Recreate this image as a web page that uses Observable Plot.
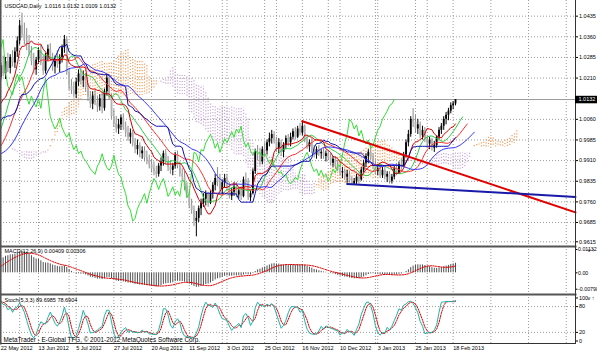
<!DOCTYPE html>
<html><head><meta charset="utf-8">
<script src="https://cdn.jsdelivr.net/npm/d3@7"></script>
<script src="https://cdn.jsdelivr.net/npm/@observablehq/plot@0.6"></script>
<style>
body{margin:0;background:#fff;}
#chart{position:relative;width:597px;height:354px;overflow:hidden;background:#fff;}
</style></head><body><div id="chart"></div>
<script>
// ---------- DATA (USDCAD daily, 22 May 2012 .. 19 Feb 2013) ----------
const dateTickBars = [0,16,32,48,64,80,96,112,128,144,160,176,192];
const dateLabels = ["22 May 2012","13 Jun 2012","5 Jul 2012","27 Jul 2012","20 Aug 2012","11 Sep 2012","3 Oct 2012","25 Oct 2012","16 Nov 2012","10 Dec 2012","3 Jan 2013","25 Jan 2013","18 Feb 2013"];
const futureGridBars = [208,224,240];
const monthStartBars = [8,29,51,74,94,117,139,159,181];
const priceTicks = [1.0435,1.0360,1.0285,1.0210,1.0060,0.9985,0.9910,0.9835,0.9760,0.9685,0.9615];
const macdTicks = [0.01132,0,-0.00798];
const macdTickLabels = ["0.01132","0.00","-0.00798"];
const stochTicks = [100,80,20,0];
const stochLevels = [20,80];

// history before the first visible bar (implied by the indicator levels at the left edge)
const preHigh = [0.9995,0.9985,1.0000,1.0020,1.0005,0.9985,0.9965,0.9980,1.0010,1.0010,1.0030,1.0040,1.0015,0.9975,1.0000,0.9995,0.9975,0.9945,0.9935,0.9920,0.9930,0.9930,0.9905,0.9885,0.9895,0.9905,0.9895,0.9900,0.9915,0.9945,0.9975,0.9985,1.0000,1.0010,1.0010,1.0045,1.0070,1.0105,1.0145,1.0180,1.0215];
const preLow = [0.9940,0.9930,0.9945,0.9975,0.9965,0.9945,0.9920,0.9930,0.9960,0.9965,0.9975,0.9995,0.9955,0.9930,0.9940,0.9955,0.9905,0.9900,0.9890,0.9870,0.9880,0.9885,0.9860,0.9845,0.9850,0.9860,0.9855,0.9860,0.9875,0.9895,0.9925,0.9945,0.9960,0.9970,0.9975,0.9990,1.0025,1.0055,1.0085,1.0125,1.0160];
const preClose = [0.9965,0.9950,0.9985,0.9995,0.9975,0.9955,0.9935,0.9965,0.9990,0.9985,1.0005,1.0010,0.9965,0.9945,0.9985,0.9970,0.9915,0.9925,0.9905,0.9890,0.9920,0.9895,0.9870,0.9860,0.9875,0.9880,0.9870,0.9885,0.9900,0.9935,0.9955,0.9965,0.9990,0.9985,0.9995,1.0030,1.0060,1.0090,1.0130,1.0165,1.0200];

const open = [1.0210,1.0255,1.0225,1.0270,1.0245,1.0285,1.0265,1.0305,1.0345,1.0400,
1.0370,1.0345,1.0330,1.0300,1.0270,1.0240,1.0275,1.0310,1.0265,1.0235,
1.0290,1.0315,1.0280,1.0250,1.0275,1.0260,1.0285,1.0320,1.0350,1.0230,
1.0180,1.0165,1.0150,1.0195,1.0225,1.0200,1.0215,1.0175,1.0140,1.0115,
1.0145,1.0120,1.0105,1.0135,1.0100,1.0160,1.0210,1.0140,1.0070,1.0045,
1.0025,1.0040,1.0065,1.0030,1.0010,0.9995,1.0010,0.9975,0.9950,0.9965,
0.9935,0.9945,0.9920,0.9910,0.9895,0.9880,0.9870,0.9860,0.9890,0.9905,
0.9935,0.9905,0.9885,0.9875,0.9890,0.9930,0.9890,0.9860,0.9850,0.9815,
0.9790,0.9745,0.9730,0.9690,0.9700,0.9735,0.9755,0.9770,0.9790,0.9755,
0.9790,0.9820,0.9845,0.9830,0.9805,0.9830,0.9845,0.9815,0.9780,0.9795,
0.9815,0.9785,0.9800,0.9780,0.9840,0.9835,0.9775,0.9790,0.9870,0.9940,
0.9935,0.9905,0.9950,0.9945,0.9975,0.9990,1.0005,0.9985,0.9955,0.9975,
0.9940,0.9965,0.9990,0.9975,0.9995,1.0015,0.9995,1.0025,1.0010,1.0035,
0.9985,0.9960,0.9975,0.9945,0.9930,0.9950,0.9935,0.9940,0.9925,0.9935,
0.9920,0.9900,0.9915,0.9890,0.9880,0.9865,0.9870,0.9850,0.9860,0.9835,
0.9825,0.9835,0.9850,0.9840,0.9875,0.9900,0.9925,0.9940,0.9920,0.9890,
0.9870,0.9880,0.9855,0.9875,0.9850,0.9860,0.9835,0.9850,0.9880,0.9865,
0.9895,0.9890,0.9930,0.9975,1.0005,1.0060,1.0050,1.0025,1.0040,1.0000,
1.0020,0.9985,0.9970,0.9985,0.9955,0.9965,0.9995,1.0020,1.0035,1.0060,
1.0075,1.0090,1.0110,1.0116];
const high = [1.0265,1.0290,1.0285,1.0300,1.0295,1.0310,1.0320,1.0360,1.0420,1.0446,
1.0410,1.0390,1.0365,1.0325,1.0300,1.0285,1.0320,1.0330,1.0290,1.0300,
1.0330,1.0335,1.0300,1.0290,1.0310,1.0295,1.0330,1.0365,1.0360,1.0245,
1.0205,1.0195,1.0210,1.0240,1.0245,1.0235,1.0225,1.0190,1.0160,1.0160,
1.0165,1.0145,1.0150,1.0155,1.0170,1.0225,1.0215,1.0150,1.0095,1.0070,
1.0060,1.0075,1.0080,1.0050,1.0035,1.0025,1.0020,0.9990,0.9985,0.9975,
0.9960,0.9960,0.9945,0.9930,0.9915,0.9905,0.9890,0.9900,0.9920,0.9945,
0.9950,0.9925,0.9910,0.9900,0.9940,0.9945,0.9905,0.9880,0.9870,0.9830,
0.9800,0.9770,0.9745,0.9725,0.9745,0.9770,0.9790,0.9800,0.9795,0.9800,
0.9830,0.9860,0.9885,0.9860,0.9840,0.9860,0.9860,0.9830,0.9810,0.9830,
0.9830,0.9810,0.9815,0.9850,0.9865,0.9845,0.9800,0.9880,0.9950,0.9965,
0.9955,0.9960,0.9975,0.9985,1.0010,1.0020,1.0015,0.9995,0.9990,0.9985,
0.9975,1.0000,1.0005,1.0010,1.0025,1.0030,1.0035,1.0045,1.0055,1.0040,
1.0000,0.9985,0.9990,0.9965,0.9960,0.9965,0.9950,0.9955,0.9945,0.9945,
0.9935,0.9925,0.9925,0.9910,0.9895,0.9885,0.9880,0.9875,0.9870,0.9850,
0.9845,0.9860,0.9865,0.9885,0.9910,0.9935,0.9950,0.9965,0.9935,0.9905,
0.9895,0.9890,0.9885,0.9885,0.9870,0.9870,0.9860,0.9890,0.9900,0.9905,
0.9915,0.9940,0.9985,1.0020,1.0070,1.0099,1.0075,1.0060,1.0050,1.0035,
1.0030,1.0000,0.9995,0.9990,0.9980,1.0000,1.0030,1.0045,1.0070,1.0085,
1.0100,1.0120,1.0125,1.0132];
const low = [1.0200,1.0215,1.0205,1.0230,1.0225,1.0250,1.0245,1.0285,1.0330,1.0355,
1.0330,1.0310,1.0290,1.0255,1.0225,1.0220,1.0260,1.0255,1.0220,1.0225,
1.0270,1.0270,1.0235,1.0225,1.0245,1.0230,1.0265,1.0300,1.0220,1.0165,
1.0150,1.0140,1.0135,1.0180,1.0185,1.0175,1.0160,1.0125,1.0100,1.0095,
1.0110,1.0085,1.0090,1.0080,1.0090,1.0145,1.0130,1.0060,1.0030,1.0010,
1.0005,1.0020,1.0020,0.9995,0.9980,0.9970,0.9960,0.9935,0.9930,0.9920,
0.9915,0.9905,0.9895,0.9880,0.9865,0.9855,0.9845,0.9850,0.9870,0.9890,
0.9895,0.9870,0.9860,0.9855,0.9880,0.9880,0.9850,0.9835,0.9800,0.9775,
0.9735,0.9715,0.9670,0.9633,0.9685,0.9710,0.9740,0.9745,0.9740,0.9750,
0.9770,0.9800,0.9815,0.9795,0.9785,0.9810,0.9800,0.9770,0.9765,0.9780,
0.9775,0.9770,0.9765,0.9775,0.9815,0.9765,0.9760,0.9785,0.9860,0.9910,
0.9890,0.9895,0.9925,0.9930,0.9960,0.9970,0.9970,0.9940,0.9935,0.9925,
0.9920,0.9950,0.9960,0.9960,0.9985,0.9985,0.9990,1.0000,1.0000,0.9975,
0.9950,0.9940,0.9935,0.9920,0.9915,0.9925,0.9915,0.9915,0.9905,0.9910,
0.9890,0.9885,0.9880,0.9870,0.9855,0.9845,0.9840,0.9828,0.9830,0.9822,
0.9820,0.9822,0.9825,0.9835,0.9865,0.9885,0.9900,0.9910,0.9880,0.9860,
0.9855,0.9845,0.9845,0.9840,0.9830,0.9825,0.9825,0.9840,0.9855,0.9860,
0.9875,0.9885,0.9920,0.9960,0.9995,1.0030,1.0010,1.0005,0.9990,0.9985,
0.9975,0.9955,0.9950,0.9945,0.9940,0.9955,0.9985,1.0005,1.0020,1.0040,
1.0055,1.0080,1.0095,1.0109];
const close = [1.0255,1.0225,1.0270,1.0245,1.0285,1.0265,1.0305,1.0345,1.0400,1.0370,
1.0345,1.0330,1.0300,1.0270,1.0240,1.0275,1.0310,1.0265,1.0235,1.0290,
1.0315,1.0280,1.0250,1.0275,1.0260,1.0285,1.0320,1.0350,1.0230,1.0180,
1.0165,1.0150,1.0195,1.0225,1.0200,1.0215,1.0175,1.0140,1.0115,1.0145,
1.0120,1.0105,1.0135,1.0100,1.0160,1.0210,1.0140,1.0070,1.0045,1.0025,
1.0040,1.0065,1.0030,1.0010,0.9995,1.0010,0.9975,0.9950,0.9965,0.9935,
0.9945,0.9920,0.9910,0.9895,0.9880,0.9870,0.9860,0.9890,0.9905,0.9935,
0.9905,0.9885,0.9875,0.9890,0.9930,0.9890,0.9860,0.9850,0.9815,0.9790,
0.9745,0.9730,0.9690,0.9700,0.9735,0.9755,0.9770,0.9790,0.9755,0.9790,
0.9820,0.9845,0.9830,0.9805,0.9830,0.9845,0.9815,0.9780,0.9795,0.9815,
0.9785,0.9800,0.9780,0.9840,0.9835,0.9775,0.9790,0.9870,0.9940,0.9935,
0.9905,0.9950,0.9945,0.9975,0.9990,1.0005,0.9985,0.9955,0.9975,0.9940,
0.9965,0.9990,0.9975,0.9995,1.0015,0.9995,1.0025,1.0010,1.0035,0.9985,
0.9960,0.9975,0.9945,0.9930,0.9950,0.9935,0.9940,0.9925,0.9935,0.9920,
0.9900,0.9915,0.9890,0.9880,0.9865,0.9870,0.9850,0.9860,0.9835,0.9825,
0.9835,0.9850,0.9840,0.9875,0.9900,0.9925,0.9940,0.9920,0.9890,0.9870,
0.9880,0.9855,0.9875,0.9850,0.9860,0.9835,0.9850,0.9880,0.9865,0.9895,
0.9890,0.9930,0.9975,1.0005,1.0060,1.0050,1.0025,1.0040,1.0000,1.0020,
0.9985,0.9970,0.9985,0.9955,0.9965,0.9995,1.0020,1.0035,1.0060,1.0075,
1.0090,1.0110,1.0116,1.0132];

// hand-drawn trend lines (bar index, price)
const redTrendBars = [128, 243.93];
const redTrendPrices = [1.0053, 0.9722];
const blueTrendBars = [147, 243.93];
const blueTrendPrices = [0.9825, 0.9778];

const titleText = "USDCAD,Daily  1.0116 1.0132 1.0109 1.0132";
const macdTitle = "MACD(12,26,9) 0.00409 0.00306";
const stochTitle = "Stoch(5,3,3) 89.6985 78.6904";
const copyright = "MetaTrader - E-Global TFG, \u00A9 2001-2012 MetaQuotes Software Corp.";

// ---------- derived indicator series ----------
const allH = preHigh.concat(high), allL = preLow.concat(low), allC = preClose.concat(close);
const off = preClose.length, N = allC.length;
const barOf = i => i - off;
function hiOf(i,n){let m=-Infinity;for(let k=Math.max(0,i-n+1);k<=i;k++) if(allH[k]>m) m=allH[k];return m;}
function loOf(i,n){let m=Infinity;for(let k=Math.max(0,i-n+1);k<=i;k++) if(allL[k]<m) m=allL[k];return m;}
const tenkan=[], kijun=[], cloud=[], chikou=[];
for(let i=0;i<N;i++){
  const t=(hiOf(i,9)+loOf(i,9))/2, k=(hiOf(i,26)+loOf(i,26))/2;
  tenkan.push({bar:barOf(i),v:t}); kijun.push({bar:barOf(i),v:k});
  cloud.push({bar:barOf(i)+26,a:(t+k)/2,b:(hiOf(i,52)+loOf(i,52))/2});
  chikou.push({bar:barOf(i)-26,v:allC[i]});
}
function smma(src,n){let s=0;return src.map((v,i)=> s = i<n ? (s*i+v)/(i+1) : (s*(n-1)+v)/n);}
const med = allH.map((h,i)=>(h+allL[i])/2);
const jaw = smma(med,13).map((v,i)=>({bar:barOf(i)+8,v}));
const teeth = smma(med,8).map((v,i)=>({bar:barOf(i)+5,v}));
const lips = smma(med,5).map((v,i)=>({bar:barOf(i)+3,v}));
function ema(src,n){const a=2/(n+1);let e=src[0];return src.map(v=> e=e+a*(v-e));}
function sma(src,n){return src.map((v,i)=>{let s=0,c=0;for(let k=Math.max(0,i-n+1);k<=i;k++){s+=src[k];c++;}return s/c;});}
const e12=ema(allC,12), e26=ema(allC,26);
const macdV = e12.map((v,i)=>v-e26[i]);
const sigV = sma(macdV,9);
const macdBars = macdV.map((v,i)=>({bar:barOf(i),v})).filter(d=>d.bar>=0);
const sigLine = sigV.map((v,i)=>({bar:barOf(i),v})).filter(d=>d.bar>=0);
const rawNum = allC.map((c,i)=>c-loOf(i,5)), rawDen = allC.map((c,i)=>hiOf(i,5)-loOf(i,5));
const kV = allC.map((c,i)=>{let n=0,d=0;for(let k=Math.max(0,i-2);k<=i;k++){n+=rawNum[k];d+=rawDen[k];}return d?100*n/d:50;});
const dV = sma(kV,3);
const kLine = kV.map((v,i)=>({bar:barOf(i),v})).filter(d=>d.bar>=0);
const dLine = dV.map((v,i)=>({bar:barOf(i),v})).filter(d=>d.bar>=0);
const candles = close.map((c,i)=>({bar:i,o:open[i],h:high[i],l:low[i],c}));
const redTrend = redTrendBars.map((b,i)=>({bar:b,v:redTrendPrices[i]}));
const blueTrend = blueTrendBars.map((b,i)=>({bar:b,v:blueTrendPrices[i]}));
const gridBars = dateTickBars.concat(futureGridBars);
const lastPrice = close[close.length-1];

// ---------- layout ----------
const XMAX = 243.93;
const xs = {domain:[0,XMAX], range:[0.3,575], axis:null};
const font = "'Liberation Sans', Arial, sans-serif";
const baseStyle = {fontFamily:font, fontSize:"5.5px", background:"transparent", overflow:"visible", color:"#000"};
const gridStyle = {stroke:"#9a9a9a", strokeDasharray:"1,2", strokeWidth:1};

const main = Plot.plot({
  width:597, height:245, marginTop:0, marginRight:22, marginBottom:0, marginLeft:0,
  x: xs, y:{domain:[0.96051,1.0492], range:[244,0], axis:null},
  style: baseStyle,
  marks: [
    Plot.ruleY(priceTicks, gridStyle),
    Plot.ruleX(gridBars, gridStyle),
    Plot.ruleX(monthStartBars, gridStyle),
    Plot.ruleX(cloud, {x:"bar", y1:"a", y2:"b", stroke:d=>d.a>=d.b?"#f0a060":"#c9a9d6", strokeWidth:1.2, strokeDasharray:"1.2,1.8", clip:true}),
    Plot.ruleY([lastPrice], {stroke:"#9a9a9a", strokeWidth:1}),
    Plot.ruleX(candles, {x:"bar", y1:"l", y2:"h", stroke:d=>d.c>=d.o?"#000":"#8c8c8c", strokeWidth:1}),
    Plot.ruleX(candles, {x:"bar", y1:"o", y2:"c", stroke:d=>d.c>=d.o?"#000":"#b0b0b0", strokeWidth:1.8}),
    Plot.line(chikou, {x:"bar", y:"v", stroke:"#33dd33", strokeWidth:1, clip:true}),
    Plot.line(lips, {x:"bar", y:"v", stroke:"#2ecc40", strokeWidth:1, clip:true}),
    Plot.line(teeth, {x:"bar", y:"v", stroke:"#ff3030", strokeWidth:1, clip:true}),
    Plot.line(jaw, {x:"bar", y:"v", stroke:"#3535ff", strokeWidth:1, clip:true}),
    Plot.line(tenkan, {x:"bar", y:"v", stroke:"#d40000", strokeWidth:1, clip:true}),
    Plot.line(kijun, {x:"bar", y:"v", stroke:"#1010b0", strokeWidth:1, clip:true}),
    Plot.line(redTrend, {x:"bar", y:"v", stroke:"#e00000", strokeWidth:2}),
    Plot.line(blueTrend, {x:"bar", y:"v", stroke:"#1a1aa8", strokeWidth:2}),
    Plot.frame({anchor:"left", stroke:"#555", strokeWidth:2}),
    Plot.frame({anchor:"right", stroke:"#333", strokeWidth:1}),
    Plot.axisY(priceTicks, {anchor:"right", tickSize:2, tickPadding:1.5, tickFormat:d=>d.toFixed(4), fontSize:5.5}),
    Plot.ruleY([lastPrice], {x1:XMAX, x2:XMAX+9.4, stroke:"#000", strokeWidth:7.5}),
    Plot.text([lastPrice], {x:XMAX, y:d=>d, dx:3, text:d=>d.toFixed(4), fill:"#fff", textAnchor:"start", fontSize:5.5}),
    Plot.text([titleText], {frameAnchor:"top-left", dx:4, dy:4, textAnchor:"start", lineAnchor:"top", fontSize:5.5})
  ]
});

const macdPlot = Plot.plot({
  width:597, height:48, marginTop:1, marginRight:22, marginBottom:0, marginLeft:0,
  x: xs, y:{domain:[-0.01006,0.01327], range:[48,0], axis:null},
  style: baseStyle,
  marks: [
    Plot.ruleX(gridBars, gridStyle),
    Plot.ruleX(monthStartBars, gridStyle),
    Plot.ruleX(macdBars, {x:"bar", y1:0, y2:"v", stroke:"#505050", strokeWidth:1, clip:true}),
    Plot.line(sigLine, {x:"bar", y:"v", stroke:"#e00000", strokeWidth:1, strokeDasharray:"1.5,1.2", clip:true}),
    Plot.frame({anchor:"top", stroke:"#555", strokeWidth:2}),
    Plot.frame({anchor:"left", stroke:"#555", strokeWidth:2}),
    Plot.frame({anchor:"right", stroke:"#333", strokeWidth:1}),
    Plot.axisY(macdTicks, {anchor:"right", tickSize:1.5, tickPadding:1, tickFormat:d=>macdTickLabels[macdTicks.indexOf(d)], fontSize:5.3}),
    Plot.text([macdTitle], {frameAnchor:"top-left", dx:4, dy:2.5, textAnchor:"start", lineAnchor:"top", fontSize:5.5})
  ]
});

const dateTicks = dateTickBars.map((b,i)=>({bar:b,label:dateLabels[i]}));
const stochPlot = Plot.plot({
  width:597, height:61, marginTop:1, marginRight:22, marginBottom:11, marginLeft:0,
  x: xs, y:{domain:[0,100], range:[47.5,4.5], axis:null},
  style: baseStyle,
  marks: [
    Plot.ruleX(gridBars, gridStyle),
    Plot.ruleX(monthStartBars, gridStyle),
    Plot.ruleY(stochLevels, gridStyle),
    Plot.line(dLine, {x:"bar", y:"v", stroke:"#e00000", strokeWidth:1, strokeDasharray:"1.5,1.2", clip:true}),
    Plot.line(kLine, {x:"bar", y:"v", stroke:"#20b2aa", strokeWidth:1, clip:true}),
    Plot.frame({anchor:"top", stroke:"#555", strokeWidth:2}),
    Plot.frame({anchor:"bottom", stroke:"#333", strokeWidth:1}),
    Plot.frame({anchor:"left", stroke:"#555", strokeWidth:2}),
    Plot.frame({anchor:"right", stroke:"#333", strokeWidth:1}),
    Plot.axisY(stochTicks, {anchor:"right", tickSize:2, tickPadding:1.5, fontSize:5.5}),
    Plot.text([stochTitle], {frameAnchor:"top-left", dx:4, dy:4, textAnchor:"start", lineAnchor:"top", fontSize:5.5}),
    Plot.text([copyright], {frameAnchor:"bottom-left", dx:3, dy:-2, textAnchor:"start", lineAnchor:"bottom", fontSize:6.3}),
    Plot.text(dateTicks, {x:"bar", frameAnchor:"bottom", dy:6.5, text:"label", textAnchor:"start", fontSize:5.5})
  ]
});

const root = document.getElementById("chart");
[[main,0],[macdPlot,245],[stochPlot,293]].forEach(([svg,top])=>{
  svg.style.position="absolute"; svg.style.left="0px"; svg.style.top=top+"px";
  root.appendChild(svg);
});
</script></body></html>
